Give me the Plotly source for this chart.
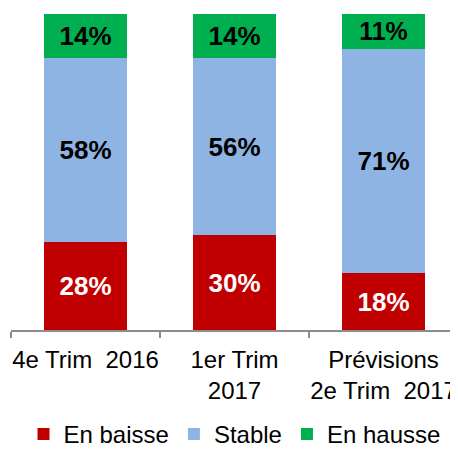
import plotly.graph_objects as go

categories = ["4e Trim\u00a0 2016", "1er Trim<br>2017", "Prévisions<br>2e Trim\u00a0 2017"]
en_baisse = [28, 30, 18]
stable = [58, 56, 71]
en_hausse = [14, 14, 11]

series = [
    ("En baisse", en_baisse, "#C00000", "white"),
    ("Stable", stable, "#8EB4E3", "black"),
    ("En hausse", en_hausse, "#00B050", "black"),
]

fig = go.Figure()
for name, vals, color, tcolor in series:
    fig.add_trace(go.Bar(
        x=categories, y=vals, name=name,
        marker=dict(color=color, line=dict(width=0)),
        text=[f"{v}%" for v in vals],
        textposition="inside", insidetextanchor="middle",
        textfont=dict(family="Liberation Sans, Arial", size=26, color=tcolor),
        texttemplate="<b>%{text}</b>",
        width=0.56,
    ))

fig.update_layout(
    barmode="stack",
    width=458, height=449,
    margin=dict(l=3, r=8, t=6, b=127, autoexpand=False),
    plot_bgcolor="white", paper_bgcolor="white",
    font=dict(family="Liberation Sans, Arial", size=24, color="black"),
    uniformtext=dict(mode=False),
    legend=dict(orientation="h", x=0.5, xanchor="center", y=-0.33, yanchor="middle",
                font=dict(size=24), itemwidth=30, traceorder="normal",
                bgcolor="rgba(0,0,0,0)"),
    xaxis=dict(showline=True, linecolor="#8C8C8C", linewidth=2, ticks="outside",
               tickson="boundaries", ticklen=6, tickcolor="#8C8C8C", tickwidth=2,
               tickangle=0, ticklabelstandoff=7, showgrid=False,
               tickfont=dict(size=24), automargin=False),
    yaxis=dict(range=[0, 100], visible=False, showgrid=False, automargin=False),
)

fig.write_html("out.html")
